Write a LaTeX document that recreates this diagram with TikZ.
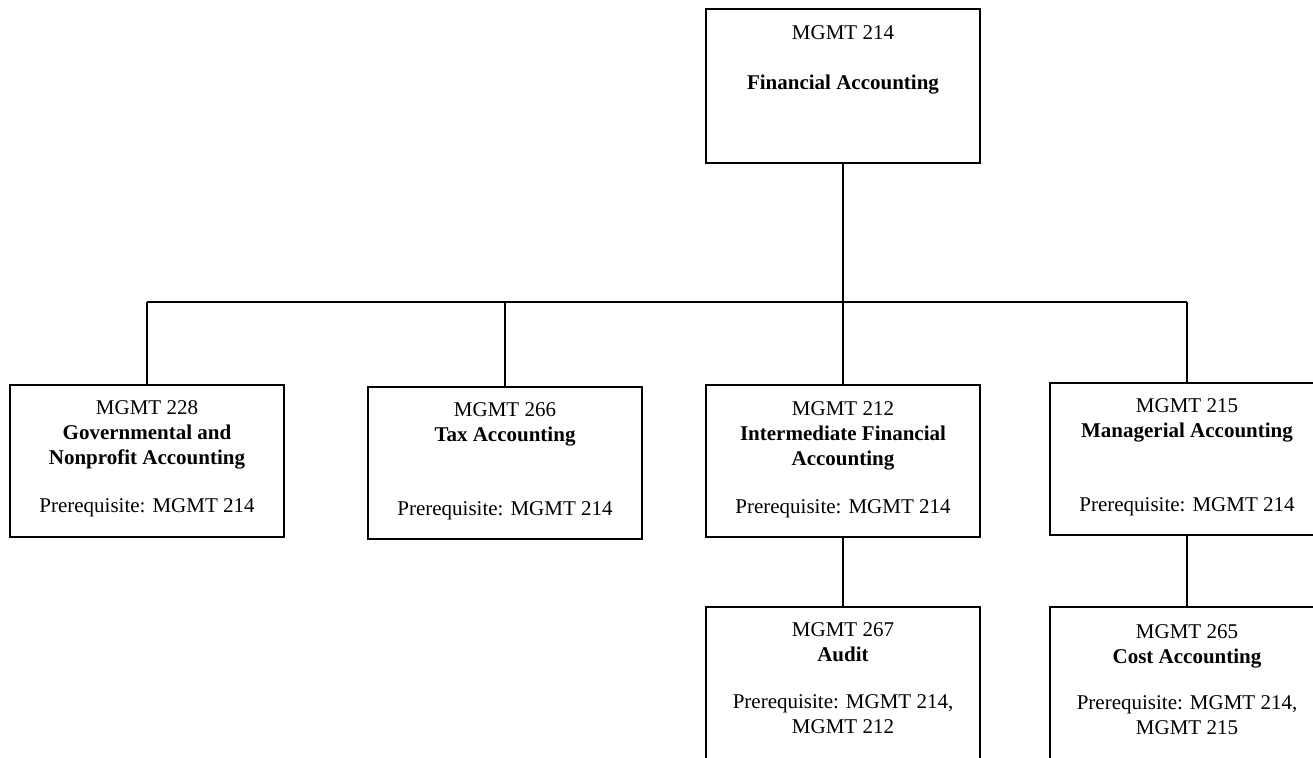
\documentclass[tikz,border=0pt]{standalone}
\usepackage{fontspec}
\setmainfont{Liberation Serif}
\begin{document}
\begin{tikzpicture}[x=1pt,y=-1pt,
  box/.style={draw=black, line width=1.2pt, rectangle, inner sep=0pt, minimum width=274pt, minimum height=152pt},
  txt/.style={align=center, inner sep=0pt, anchor=north, font=\fontsize{21}{25}\selectfont},
  conn/.style={draw=black, line width=1.3pt}]
\clip (0,0) rectangle (1313,757);
\fill[white] (0,0) rectangle (1313,757);
% boxes
\node[box, minimum height=154pt] (top) at (843,86) {};
\node[box] (b228) at (147,461) {};
\node[box] (b266) at (505,463) {};
\node[box] (b212) at (843,461) {};
\node[box] (b215) at (1187,459) {};
\node[box, minimum height=153pt] (b267) at (843,683.5) {};
\node[box, minimum height=153pt] (b265) at (1187,683.5) {};
% texts
\node[txt] (t214) at (843,25.5) {MGMT 214\\[25pt]\textbf{Financial Accounting}};
\node[txt] (t228) at (147,400.5) {MGMT 228\\\textbf{Governmental and}\\\textbf{Nonprofit Accounting}\\[23pt]Prerequisite: MGMT 214};
\node[txt] (t266) at (505,402.5) {MGMT 266\\\textbf{Tax Accounting}\\[49pt]Prerequisite: MGMT 214};
\node[txt] (t212) at (843,401.5) {MGMT 212\\\textbf{Intermediate Financial}\\\textbf{Accounting}\\[23pt]Prerequisite: MGMT 214};
\node[txt] (t215) at (1187,398.5) {MGMT 215\\\textbf{Managerial Accounting}\\[49pt]Prerequisite: MGMT 214};
\node[txt] (t267) at (843,622.5) {MGMT 267\\\textbf{Audit}\\[22pt]Prerequisite: MGMT 214,\\MGMT 212};
\node[txt] (t265) at (1187,624.5) {MGMT 265\\\textbf{Cost Accounting}\\[21pt]Prerequisite: MGMT 214,\\MGMT 215};
% bus
\coordinate (busL) at (147,302);
\coordinate (busR) at (1187,302);
\draw[conn] (busL) -- (busR);
\draw[conn] (top.south) -- (top.south |- busL);
\draw[conn] (busL) -- (b228.north);
\draw[conn] (b266.north |- busL) -- (b266.north);
\draw[conn] (b212.north |- busL) -- (b212.north);
\draw[conn] (busR) -- (b215.north);
\draw[conn] (b212.south) -- (b267.north);
\draw[conn] (b215.south) -- (b265.north);
\end{tikzpicture}
\end{document}
